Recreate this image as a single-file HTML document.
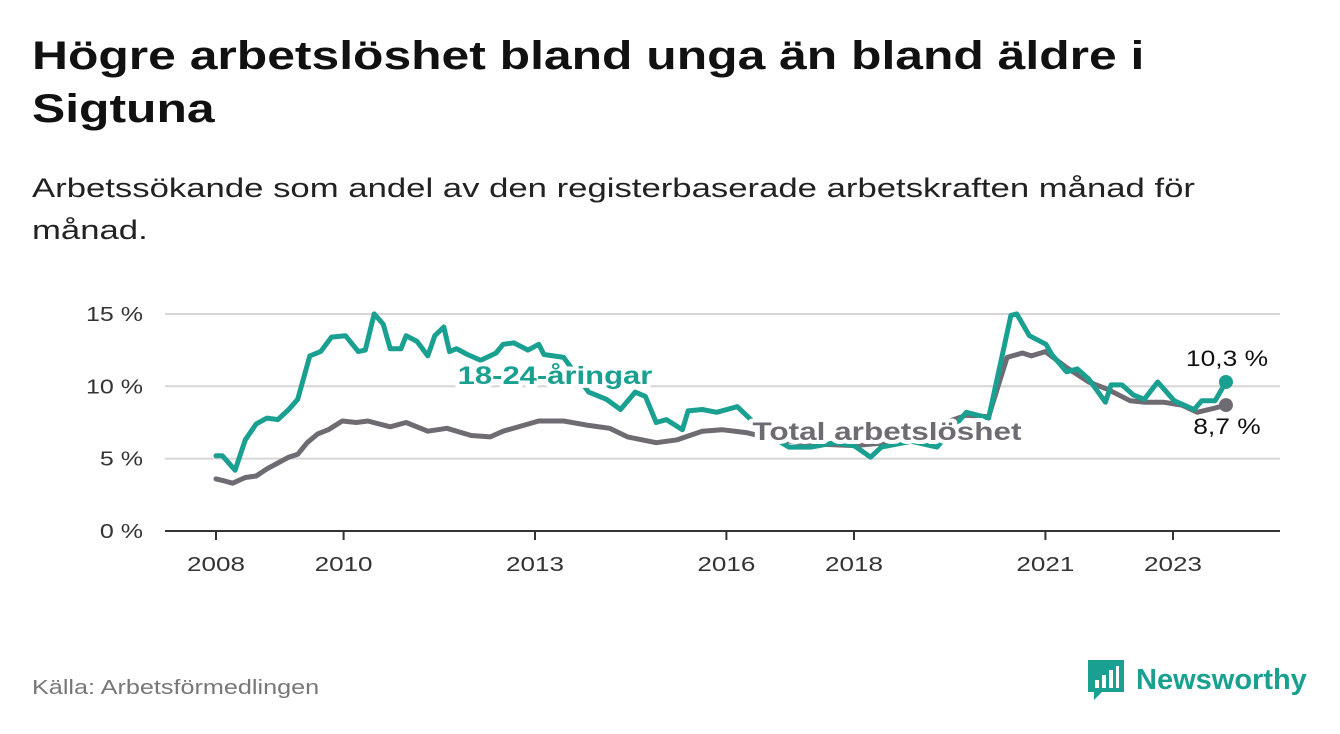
<!DOCTYPE html>
<html><head><meta charset="utf-8"><style>
body{margin:0;background:#fff;font-family:"Liberation Sans",sans-serif;}
#w{position:relative;width:1340px;height:734px;overflow:hidden;}
.sx{position:absolute;left:32px;transform-origin:0 0;white-space:nowrap}
h1{top:30px;margin:0;font-size:40px;line-height:53px;font-weight:bold;color:#111;transform:scaleX(1.245)}
.sub{top:167px;font-size:27px;line-height:42px;color:#222;transform:scaleX(1.285)}
.src{top:677px;font-size:20px;color:#777;transform:scaleX(1.26)}
.logo{position:absolute;left:1088px;top:660px;display:flex;align-items:center;gap:12px;color:#1aa091;font-weight:bold;font-size:29px}
</style></head><body>
<div id="w">
<h1 class="sx">Högre arbetslöshet bland unga än bland äldre i<br>Sigtuna</h1>
<div class="sub sx">Arbetssökande som andel av den registerbaserade arbetskraften månad för<br>månad.</div>
<svg id="c" width="1340" height="734" style="position:absolute;left:0;top:0"></svg>
<div class="src sx">Källa: Arbetsförmedlingen</div>
<div class="logo">
<svg width="36" height="40" viewBox="0 0 36 40"><path d="M0 0H36V32H14L6 40V32H0Z" fill="#1aa091"/><rect x="7" y="20" width="4" height="8" fill="#fff"/><rect x="14" y="15" width="4" height="13" fill="#fff"/><rect x="21" y="10" width="4" height="18" fill="#fff"/><rect x="28" y="6" width="3" height="22" fill="#fff"/></svg>
<span>Newsworthy</span></div>
</div>
<script>
const yTicks=[0,5,10,15];
const yTickLabels=["0 %","5 %","10 %","15 %"];
const xTicks=[2008,2010,2013,2016,2018,2021,2023];
const youthDates=[2008.0,2008.1,2008.3,2008.46,2008.63,2008.8,2008.97,2009.14,2009.28,2009.47,2009.64,2009.81,2010.03,2010.23,2010.34,2010.48,2010.62,2010.73,2010.9,2010.98,2011.15,2011.32,2011.43,2011.57,2011.66,2011.77,2011.94,2012.15,2012.39,2012.5,2012.67,2012.89,2013.06,2013.14,2013.45,2013.84,2014.12,2014.34,2014.57,2014.73,2014.9,2015.06,2015.31,2015.4,2015.62,2015.85,2016.17,2016.31,2016.6,2016.98,2017.33,2017.7,2018.0,2018.26,2018.43,2018.9,2019.3,2019.76,2020.11,2020.46,2020.55,2020.75,2021.01,2021.1,2021.33,2021.5,2021.68,2021.94,2022.03,2022.2,2022.38,2022.55,2022.76,2023.02,2023.33,2023.45,2023.66,2023.83];
const youthVals=[5.2,5.2,4.2,6.3,7.4,7.8,7.7,8.4,9.1,12.1,12.4,13.4,13.5,12.4,12.5,15.0,14.3,12.6,12.6,13.5,13.1,12.1,13.5,14.1,12.4,12.6,12.2,11.8,12.3,12.9,13.0,12.5,12.9,12.2,12.0,9.6,9.1,8.4,9.6,9.3,7.5,7.7,7.0,8.3,8.4,8.2,8.6,8.0,6.8,5.8,5.8,6.1,5.9,5.1,5.8,6.2,5.8,8.2,7.8,14.9,15.0,13.5,12.9,12.2,11.0,11.2,10.5,8.9,10.1,10.1,9.4,9.1,10.3,9.0,8.4,9.0,9.0,10.3];
const totalDates=[2008.0,2008.1,2008.26,2008.46,2008.63,2008.8,2008.97,2009.14,2009.28,2009.43,2009.59,2009.76,2009.98,2010.2,2010.38,2010.73,2010.98,2011.32,2011.62,2012.0,2012.3,2012.5,2013.06,2013.45,2013.84,2014.17,2014.45,2014.9,2015.23,2015.62,2015.93,2016.31,2016.6,2017.0,2017.5,2018.0,2018.5,2019.0,2019.5,2019.76,2020.11,2020.35,2020.4,2020.64,2020.78,2021.0,2021.33,2021.68,2021.97,2022.33,2022.55,2022.85,2023.14,2023.38,2023.66,2023.83];
const totalVals=[3.6,3.5,3.3,3.7,3.8,4.3,4.7,5.1,5.3,6.1,6.7,7.0,7.6,7.5,7.6,7.2,7.5,6.9,7.1,6.6,6.5,6.9,7.6,7.6,7.3,7.1,6.5,6.1,6.3,6.9,7.0,6.8,6.5,6.2,6.0,5.9,6.1,6.6,7.6,8.0,7.9,11.3,12.0,12.3,12.1,12.4,11.3,10.3,9.8,9.0,8.9,8.9,8.7,8.2,8.5,8.7];
const NS="http://www.w3.org/2000/svg";
const svg=document.getElementById('c');
const X0=165,X1=1280;
const xs=y=>216+(y-2008)*63.8;
const ys=v=>531-v*14.47;
function mk(t,a,p){const e=document.createElementNS(NS,t);for(const k in a)e.setAttribute(k,a[k]);(p||svg).appendChild(e);return e;}
function widen(t,f){const w=t.getComputedTextLength();t.setAttribute('textLength',(w*f).toFixed(1));t.setAttribute('lengthAdjust','spacingAndGlyphs');}
yTicks.forEach((t,i)=>{
  if(t>0){const g=mk('line',{x1:X0,x2:X1,y1:ys(t),y2:ys(t),stroke:'#d6d6d6','stroke-width':2});
  
  }
  const l=mk('text',{x:143,y:ys(t)+7,'text-anchor':'end','font-size':20,fill:'#333'});
  l.textContent=yTickLabels[i];
  
  
  widen(l,1.25);
});
const ax=mk('line',{x1:X0,x2:X1,y1:531,y2:531,stroke:'#333','stroke-width':2});


xTicks.forEach(t=>{
  mk('line',{x1:xs(t),x2:xs(t),y1:531,y2:540,stroke:'#333','stroke-width':2});
  const l=mk('text',{x:xs(t),y:571,'text-anchor':'middle','font-size':20,fill:'#333'});
  l.textContent=t;
  
  
  widen(l,1.3);
});
function line(d,v,col,name){
  const p=mk('path',{d:d.map((x,i)=>(i?'L':'M')+xs(x).toFixed(1)+' '+ys(v[i]).toFixed(1)).join(''),fill:'none',stroke:col,'stroke-width':5,'stroke-linejoin':'round','stroke-linecap':'round'});
  
  
  const n=d.length-1;
  const c=mk('circle',{cx:xs(d[n]),cy:ys(v[n]),r:7,fill:col});
  
  
}
line(totalDates,totalVals,'#6e6c72','total-line');
line(youthDates,youthVals,'#1aa091','youth-line');
function lab(txt,x,y,col,size,bold,name,f){
  const t=mk('text',{x:x,y:y,'text-anchor':'middle','font-size':size,'font-weight':bold?'bold':'normal',fill:col,stroke:'#fff','stroke-width':bold?8:6,'paint-order':'stroke','stroke-linejoin':'round'});
  t.textContent=txt;
  
  
  widen(t,f);
}
lab('18-24-åringar',555,384,'#1aa091',25,true,'youth-series-label',1.24);
lab('Total arbetslöshet',887,440,'#6e6c72',25,true,'total-series-label',1.26);
lab('10,3 %',1227,366,'#111',22,false,'youth-end-value',1.2);
lab('8,7 %',1227,434,'#111',22,false,'total-end-value',1.2);
</script>
</body></html>
